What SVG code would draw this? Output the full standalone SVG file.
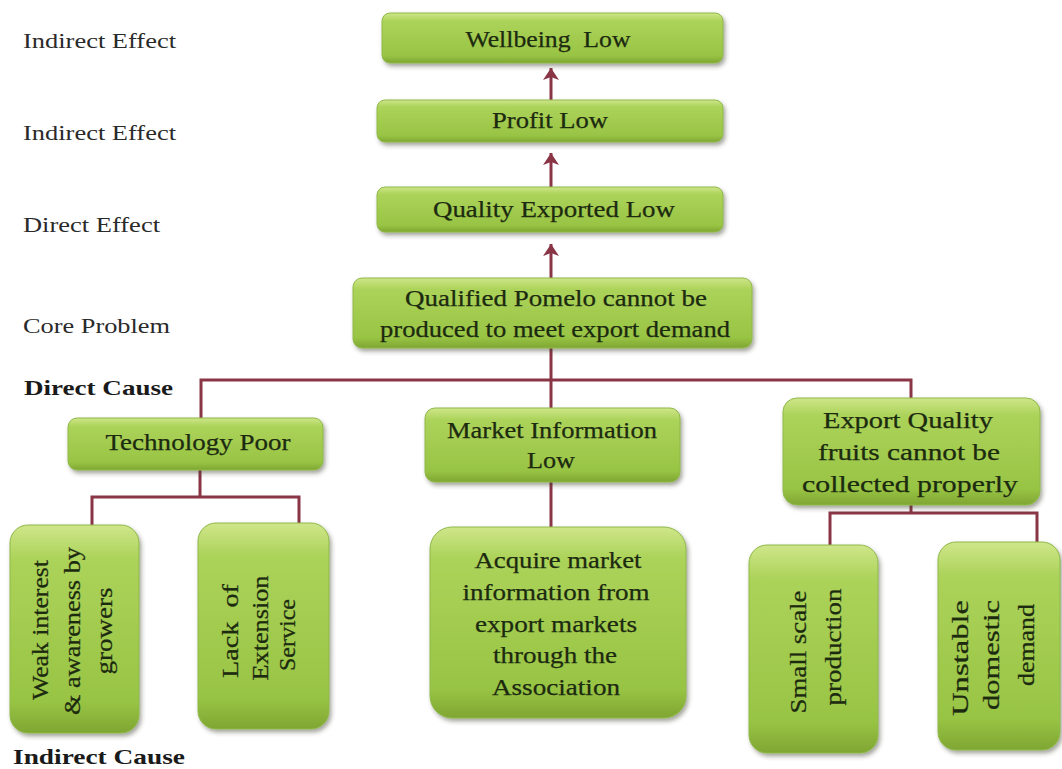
<svg xmlns="http://www.w3.org/2000/svg" width="1062" height="769" viewBox="0 0 1062 769">
  <defs>
    <linearGradient id="greenFill" x1="0" y1="0" x2="0" y2="1">
      <stop offset="0" stop-color="#cfe68a"/>
      <stop offset="0.16" stop-color="#acd35a"/>
      <stop offset="0.85" stop-color="#98c444"/>
      <stop offset="1" stop-color="#7fa632"/>
    </linearGradient>
    <filter id="shadow" x="-10%" y="-10%" width="125%" height="130%">
      <feDropShadow dx="2" dy="3" stdDeviation="2.2" flood-color="#3a3a2a" flood-opacity="0.45"/>
    </filter>
    <marker id="arrowHead" viewBox="0 0 12 16" refX="12" refY="8" markerWidth="12" markerHeight="16" markerUnits="userSpaceOnUse" orient="auto">
      <path d="M0,0 L12,8 L0,16 L3,8 z" fill="#8a3546"/>
    </marker>
    <style>
      .box { fill: url(#greenFill); stroke: #8fb84a; stroke-width: 1; filter: url(#shadow); }
      .lbl { font-size: 23px; fill: #1c2a10; stroke: #1c2a10; stroke-width: 0.25; text-anchor: middle; }
      .side { font-size: 22px; fill: #2a2a2a; }
      .sideBold { font-size: 22px; font-weight: bold; fill: #1a1a1a; }
      .link { fill: none; stroke: #8a3546; stroke-width: 3; }
      .arrow { fill: none; stroke: #8a3546; stroke-width: 3; marker-end: url(#arrowHead); }
    </style>
  </defs>

  <rect width="1062" height="769" fill="#ffffff"/>

  <g font-family="Liberation Serif, DejaVu Serif, serif">

  <!-- level captions -->
  <g id="captions">
    <text class="side" x="23" y="48" textLength="153" lengthAdjust="spacingAndGlyphs">Indirect Effect</text>
    <text class="side" x="23" y="140" textLength="153" lengthAdjust="spacingAndGlyphs">Indirect Effect</text>
    <text class="side" x="23" y="232" textLength="137" lengthAdjust="spacingAndGlyphs">Direct Effect</text>
    <text class="side" x="23" y="333" textLength="147" lengthAdjust="spacingAndGlyphs">Core Problem</text>
    <text class="sideBold" x="24" y="395" textLength="149" lengthAdjust="spacingAndGlyphs">Direct Cause</text>
    <text class="sideBold" x="13" y="764" textLength="172" lengthAdjust="spacingAndGlyphs">Indirect Cause</text>
  </g>

  <!-- connectors -->
  <g id="connectors">
    <line class="arrow" x1="551" y1="100" x2="551" y2="68"/>
    <line class="arrow" x1="551" y1="187" x2="551" y2="153"/>
    <line class="arrow" x1="551" y1="278" x2="551" y2="244"/>
    <path class="link" d="M551,348 V380 M201,418 V380 H911 V398 M551,380 V408"/>
    <path class="link" d="M200,470 V497 M92,525 V497 H299 V523"/>
    <path class="link" d="M551,482 V527"/>
    <path class="link" d="M911,505 V513 M830,545 V513 H1037 V542"/>
  </g>

  <g id="wellbeing-low">
    <rect class="box" x="382" y="13" width="341" height="50" rx="8"/>
    <text class="lbl" x="548" y="47" textLength="165" lengthAdjust="spacingAndGlyphs" xml:space="preserve">Wellbeing  Low</text>
  </g>

  <g id="profit-low">
    <rect class="box" x="377" y="100" width="346" height="42" rx="8"/>
    <text class="lbl" x="550" y="128" textLength="116" lengthAdjust="spacingAndGlyphs">Profit Low</text>
  </g>

  <g id="quality-exported-low">
    <rect class="box" x="377" y="187" width="346" height="45" rx="8"/>
    <text class="lbl" x="554" y="217" textLength="242" lengthAdjust="spacingAndGlyphs">Quality Exported Low</text>
  </g>

  <g id="core-problem">
    <rect class="box" x="353" y="278" width="399" height="70" rx="9"/>
    <text class="lbl" x="556" y="306" textLength="302" lengthAdjust="spacingAndGlyphs">Qualified Pomelo cannot be</text>
    <text class="lbl" x="555" y="337" textLength="350" lengthAdjust="spacingAndGlyphs">produced to meet export demand</text>
  </g>

  <g id="technology-poor">
    <rect class="box" x="68" y="418" width="255" height="52" rx="9"/>
    <text class="lbl" x="198" y="450" textLength="185" lengthAdjust="spacingAndGlyphs">Technology Poor</text>
  </g>

  <g id="market-information-low">
    <rect class="box" x="425" y="408" width="255" height="74" rx="10"/>
    <text class="lbl" x="552" y="438" textLength="210" lengthAdjust="spacingAndGlyphs">Market Information</text>
    <text class="lbl" x="551" y="468" textLength="48" lengthAdjust="spacingAndGlyphs">Low</text>
  </g>

  <g id="export-quality">
    <rect class="box" x="783" y="398" width="257" height="107" rx="14"/>
    <text class="lbl" x="908" y="428" textLength="170" lengthAdjust="spacingAndGlyphs">Export Quality</text>
    <text class="lbl" x="909" y="460" textLength="182" lengthAdjust="spacingAndGlyphs">fruits cannot be</text>
    <text class="lbl" x="910" y="492" textLength="216" lengthAdjust="spacingAndGlyphs">collected properly</text>
  </g>

  <!-- vertical labels: rotate(-90) maps local x to -screen y and local y to screen x -->
  <g id="weak-interest">
    <rect class="box" x="10" y="525" width="129" height="208" rx="18"/>
    <g transform="rotate(-90)">
      <text class="lbl" x="-630" y="48" textLength="140" lengthAdjust="spacingAndGlyphs">Weak interest</text>
      <text class="lbl" x="-631" y="80" textLength="168" lengthAdjust="spacingAndGlyphs">&amp; awareness by</text>
      <text class="lbl" x="-631" y="112" textLength="87" lengthAdjust="spacingAndGlyphs">growers</text>
    </g>
  </g>

  <g id="lack-of-extension">
    <rect class="box" x="198" y="523" width="131" height="206" rx="18"/>
    <g transform="rotate(-90)">
      <text class="lbl" x="-631" y="238" textLength="94" lengthAdjust="spacingAndGlyphs" xml:space="preserve">Lack  of</text>
      <text class="lbl" x="-628" y="268" textLength="105" lengthAdjust="spacingAndGlyphs">Extension</text>
      <text class="lbl" x="-635" y="295" textLength="72" lengthAdjust="spacingAndGlyphs">Service</text>
    </g>
  </g>

  <g id="acquire-market-information">
    <rect class="box" x="430" y="527" width="256" height="191" rx="22"/>
    <text class="lbl" x="558" y="568" textLength="167" lengthAdjust="spacingAndGlyphs">Acquire market</text>
    <text class="lbl" x="556" y="600" textLength="187" lengthAdjust="spacingAndGlyphs">information from</text>
    <text class="lbl" x="556" y="632" textLength="162" lengthAdjust="spacingAndGlyphs">export markets</text>
    <text class="lbl" x="555" y="663" textLength="124" lengthAdjust="spacingAndGlyphs">through the</text>
    <text class="lbl" x="556" y="695" textLength="128" lengthAdjust="spacingAndGlyphs">Association</text>
  </g>

  <g id="small-scale-production">
    <rect class="box" x="749" y="545" width="129" height="208" rx="18"/>
    <g transform="rotate(-90)">
      <text class="lbl" x="-652" y="806" textLength="123" lengthAdjust="spacingAndGlyphs">Small scale</text>
      <text class="lbl" x="-647" y="841" textLength="117" lengthAdjust="spacingAndGlyphs">production</text>
    </g>
  </g>

  <g id="unstable-domestic-demand">
    <rect class="box" x="938" y="542" width="122" height="208" rx="18"/>
    <g transform="rotate(-90)">
      <text class="lbl" x="-658" y="968" textLength="116" lengthAdjust="spacingAndGlyphs">Unstable</text>
      <text class="lbl" x="-655" y="999" textLength="110" lengthAdjust="spacingAndGlyphs">domestic</text>
      <text class="lbl" x="-645" y="1034" textLength="82" lengthAdjust="spacingAndGlyphs">demand</text>
    </g>
  </g>

  </g>
</svg>
